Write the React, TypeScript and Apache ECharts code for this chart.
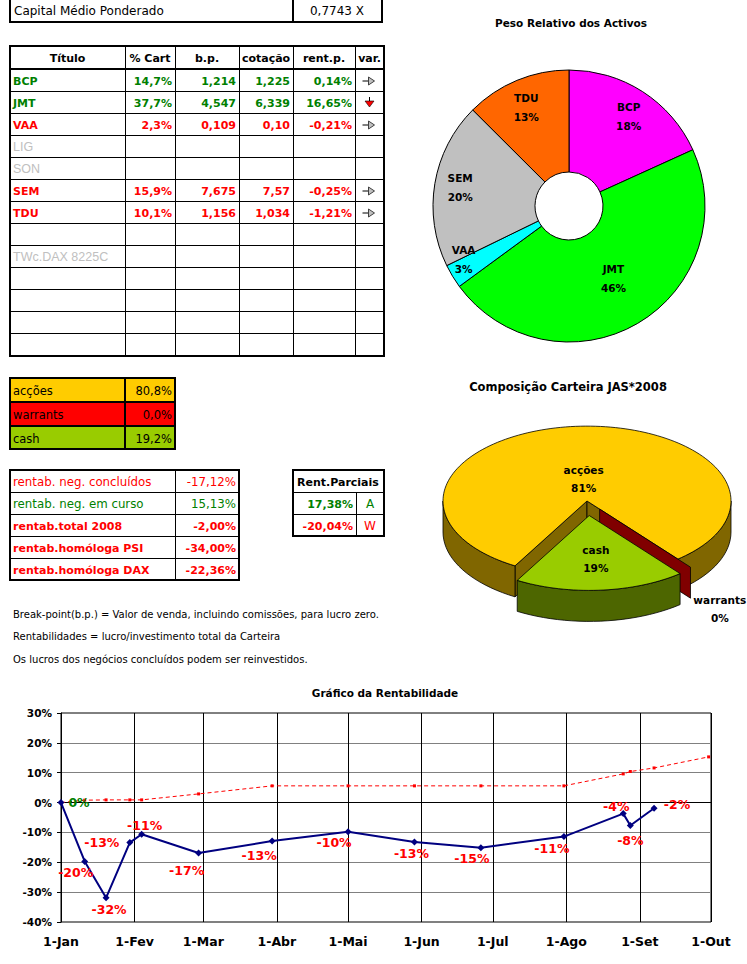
import React, { useEffect, useRef } from 'react';
import * as echarts from 'echarts';

// ---------------- DATA ----------------
const capitalLabel = 'Capital Médio Ponderado';
const capitalValue = '0,7743 X';

const tableHeaders = ['Título', '% Cart', 'b.p.', 'cotação', 'rent.p.', 'var.'];
const titulos = ['BCP', 'JMT', 'VAA', 'LIG', 'SON', 'SEM', 'TDU', '', 'TWc.DAX 8225C', '', '', '', ''];
const pctCarteira = [14.7, 37.7, 2.3, null, null, 15.9, 10.1];
const breakPoints = ['1,214', '4,547', '0,109', '', '', '7,675', '1,156'];
const cotacoes = ['1,225', '6,339', '0,10', '', '', '7,57', '1,034'];
const rentParcial = [0.14, 16.65, -0.21, null, null, -0.25, -1.21];
const variacao = ['right', 'down', 'right', '', '', 'right', 'right'];

const compNames = ['acções', 'warrants', 'cash'];
const compValues = [80.8, 0.0, 19.2];

const rentLabels = [
  'rentab. neg. concluídos',
  'rentab. neg. em curso',
  'rentab.total 2008',
  'rentab.homóloga PSI',
  'rentab.homóloga DAX',
];
const rentValues = [-17.12, 15.13, -2.0, -34.0, -22.36];
const parciaisTitle = 'Rent.Parciais';
const parciaisValues = [17.38, -20.04];
const parciaisTags = ['A', 'W'];

const notes = [
  'Break-point(b.p.) = Valor de venda, incluindo comissões, para lucro zero.',
  'Rentabilidades = lucro/investimento total da Carteira',
  'Os lucros dos negócios concluídos podem ser reinvestidos.',
];

const donutTitle = 'Peso Relativo dos Activos';
const donutNames = ['BCP', 'JMT', 'VAA', 'SEM', 'TDU'];
const donutValues = [14.7, 37.7, 2.3, 15.9, 10.1];
const donutPctLabels = [18, 46, 3, 20, 13];

const pie3dTitle = 'Composição Carteira JAS*2008';

const lineTitle = 'Gráfico da Rentabilidade';
const monthNames = ['Jan', 'Fev', 'Mar', 'Abr', 'Mai', 'Jun', 'Jul', 'Ago', 'Set', 'Out', 'Nov', 'Dez'];
const rentDates = [
  '2008-01-01', '2008-01-11', '2008-01-20', '2008-01-30', '2008-02-04', '2008-02-28', '2008-03-30',
  '2008-05-01', '2008-05-29', '2008-06-26', '2008-07-31', '2008-08-25', '2008-08-28', '2008-09-07',
];
const rentCarteira = [0, -19.7, -31.9, -13.4, -10.6, -16.9, -12.9, -9.8, -13.2, -15.1, -11.4, -3.7, -7.7, -1.9];
const refDates = [
  '2008-01-01', '2008-01-11', '2008-01-20', '2008-01-30', '2008-02-04', '2008-02-28', '2008-03-30',
  '2008-05-01', '2008-05-29', '2008-06-26', '2008-07-31', '2008-08-25', '2008-08-28', '2008-09-07', '2008-09-30',
];
const refValues = [0, 0.8, 0.9, 0.9, 0.9, 2.9, 5.6, 5.6, 5.6, 5.6, 5.6, 9.6, 10.4, 11.6, 15.3];

// ---------------- STYLE ----------------
const FF = "'DejaVu Sans', Verdana, sans-serif";
const FF_THIN = "'Liberation Sans', Arial, sans-serif";
const GREEN = '#008000';
const RED = '#FF0000';
const GRAY = '#C0C0C0';
const NAVY = '#000080';
const compColors = ['#FFCC00', '#FF0000', '#99CC00'];
const donutColors = ['#FF00FF', '#00FF00', '#00FFFF', '#C0C0C0', '#FF6600'];
const donutLabelShift = [[12, -16], [0, -3], [-30, 8], [-22, -4], [-9, -17]];
const pie3dSideColors = ['#806600', '#800000', '#4D6600'];
const pie3dExplode = [0, 20, 28];
const pie3dLabelPlace = [[0.29, 0], [1.57, 7], [0.58, 0]];
const P3 = { cx: 587, cy: 501, R: 144, k: 0.52, depth: 31, start: 120 };
const lineLabelOffsets = [
  [18, 0], [-9, 11], [3, 12], [-28, 0], [3, -9], [-12, 17], [-13, 14],
  [-14, 11], [-3, 12], [-9, 11], [-12, 12], [-7, -7], [0, 15], [23, -4],
];

const signColor = (v: number) => (v >= 0 ? GREEN : RED);
const fmtPct = (v: number, d: number) => v.toFixed(d).replace('.', ',') + '%';

function buildOption() {
  const fills: any[] = [];
  const lines: any[] = [];
  const texts: any[] = [];

  const hl = (x1: number, x2: number, y: number, w = 1) => {
    const yy = w % 2 === 1 ? y + 0.5 : y;
    lines.push({ type: 'line', silent: true, shape: { x1, y1: yy, x2, y2: yy }, style: { stroke: '#000', lineWidth: w } });
  };
  const vl = (x: number, y1: number, y2: number, w = 1) => {
    const xx = w % 2 === 1 ? x + 0.5 : x;
    lines.push({ type: 'line', silent: true, shape: { x1: xx, y1, x2: xx, y2 }, style: { stroke: '#000', lineWidth: w } });
  };
  const box = (x: number, y: number, w: number, h: number, lw = 2) => {
    lines.push({ type: 'rect', silent: true, shape: { x, y, width: w, height: h }, style: { fill: 'none', stroke: '#000', lineWidth: lw } });
  };
  const tx = (x: number, y: number, text: string, o: any = {}) => {
    texts.push({
      type: 'text', silent: true, x, y,
      style: {
        text, fill: o.color || '#000', fontFamily: o.family || FF, fontSize: o.size || 11,
        fontWeight: o.bold ? 'bold' : 'normal', align: o.align || 'left', verticalAlign: 'middle',
        textAlign: o.align || 'left', textVerticalAlign: 'middle',
      },
    });
  };

  // Capital box
  box(10, -4, 372, 26, 2);
  vl(293, -4, 22, 2);
  tx(14, 11, capitalLabel, { size: 12 });
  tx(337, 11, capitalValue, { size: 12, align: 'center' });

  // Main table
  const cols = [10, 125, 175, 239, 293, 355, 384];
  const top = 46, headH = 23, rowH = 22;
  const bodyTop = top + headH;
  const bottom = bodyTop + titulos.length * rowH + 1;
  box(10, top, 374, bottom - top, 2);
  for (let c = 1; c < cols.length - 1; c++) vl(cols[c], top, bottom, 1);
  hl(10, 384, bodyTop, 2);
  for (let r = 1; r < titulos.length; r++) hl(10, 384, bodyTop + r * rowH, 1);
  tableHeaders.forEach((h, c) => tx((cols[c] + cols[c + 1]) / 2, top + headH / 2 + 0.5, h, { bold: true, align: 'center' }));
  titulos.forEach((t, r) => {
    const yc = bodyTop + r * rowH + rowH / 2 + 1;
    const hasData = r < pctCarteira.length && pctCarteira[r] != null;
    if (t) {
      if (hasData) tx(13, yc, t, { bold: true, color: signColor(rentParcial[r] as number) });
      else tx(13, yc, t, { color: GRAY, family: FF_THIN, size: 12.5 });
    }
    if (hasData) {
      const col = signColor(rentParcial[r] as number);
      const vals = [fmtPct(pctCarteira[r] as number, 1), breakPoints[r], cotacoes[r], fmtPct(rentParcial[r] as number, 2)];
      vals.forEach((v, i) => tx(cols[i + 2] - 3, yc, v, { bold: true, color: col, align: 'right' }));
      const ax = (cols[5] + cols[6]) / 2;
      if (variacao[r] === 'right') {
        lines.push({ type: 'line', silent: true, shape: { x1: ax - 7, y1: yc, x2: ax - 1, y2: yc }, style: { stroke: '#000', lineWidth: 1 } });
        lines.push({ type: 'polygon', silent: true, shape: { points: [[ax - 1, yc - 4], [ax + 5, yc], [ax - 1, yc + 4]] }, style: { fill: '#C0C0C0', stroke: '#404040', lineWidth: 1 } });
      } else if (variacao[r] === 'down') {
        lines.push({ type: 'line', silent: true, shape: { x1: ax, y1: yc - 6, x2: ax, y2: yc - 2 }, style: { stroke: '#000', lineWidth: 1 } });
        lines.push({ type: 'polygon', silent: true, shape: { points: [[ax - 4.5, yc - 2], [ax + 4.5, yc - 2], [ax, yc + 4]] }, style: { fill: RED, stroke: '#000', lineWidth: 0.6 } });
      }
    }
  });

  // Composition box
  const cRows = [378, 402, 426, 449];
  compNames.forEach((n, i) => {
    fills.push({ type: 'rect', silent: true, shape: { x: 10, y: cRows[i], width: 165, height: cRows[i + 1] - cRows[i] }, style: { fill: compColors[i] } });
    tx(13, (cRows[i] + cRows[i + 1]) / 2 + 1, n, { size: 11.5 });
    tx(172, (cRows[i] + cRows[i + 1]) / 2 + 1, fmtPct(compValues[i], 1), { size: 11.5, align: 'right' });
  });
  box(10, 378, 165, 71, 2);
  vl(125, 378, 449, 2);
  hl(10, 175, 402, 2);
  hl(10, 175, 426, 2);

  // Rentabilidades box
  const rTop = 470;
  box(10, rTop, 229, rentLabels.length * 22, 2);
  vl(175, rTop, rTop + rentLabels.length * 22, 1);
  rentLabels.forEach((l, i) => {
    if (i > 0) hl(10, 239, rTop + i * 22, 1);
    const yc = rTop + i * 22 + 12;
    const col = signColor(rentValues[i]);
    const bold = i >= 2;
    tx(13, yc, l, { color: col, bold, size: bold ? 11 : 11.8 });
    tx(236, yc, fmtPct(rentValues[i], 2), { color: col, bold, align: 'right', size: bold ? 11 : 11.8 });
  });

  // Rent.Parciais box
  box(293, rTop, 91, 66, 2);
  hl(293, 384, rTop + 22, 1);
  hl(293, 384, rTop + 44, 1);
  vl(356, rTop + 22, rTop + 66, 1);
  tx(297, rTop + 12, parciaisTitle, { bold: true });
  parciaisValues.forEach((v, i) => {
    const yc = rTop + 22 * (i + 1) + 12;
    tx(353, yc, fmtPct(v, 2), { bold: true, color: signColor(v), align: 'right' });
    tx(370, yc, parciaisTags[i], { color: signColor(v), align: 'center', size: 12 });
  });

  // Notes
  notes.forEach((n, i) => tx(13, 614 + i * 22.5, n, { size: 10 }));

  // Titles
  tx(571, 23, donutTitle, { bold: true, size: 10.5, align: 'center' });
  tx(568, 387, pie3dTitle, { bold: true, size: 11.5, align: 'center' });
  tx(385, 693, lineTitle, { bold: true, size: 10.5, align: 'center' });

  const total3d = compValues.reduce((a, b) => a + b, 0);
  const rad = Math.PI / 180;

  const pie3d = {
    type: 'custom',
    coordinateSystem: 'none',
    silent: true,
    data: compValues.map((v) => [v]),
    renderItem: (params: any) => {
      const i = params.dataIndex;
      let before = 0;
      for (let j = 0; j < i; j++) before += compValues[j];
      const a0 = P3.start + (360 * before) / total3d;
      const a1 = a0 + (360 * compValues[i]) / total3d;
      const mid = (a0 + a1) / 2;
      const d = pie3dExplode[i];
      const cx = P3.cx + d * Math.cos(mid * rad);
      const cy = P3.cy + d * P3.k * Math.sin(mid * rad);
      const pt = (a: number, r = P3.R, dz = 0) => [cx + r * Math.cos(a * rad), cy + r * P3.k * Math.sin(a * rad) + dz];
      const edge = { stroke: '#000', lineWidth: 0.8 };
      const side = pie3dSideColors[i];
      const children: any[] = [];
      const face = (a: number) => ({
        type: 'polygon',
        shape: { points: [[cx, cy], pt(a), pt(a, P3.R, P3.depth), [cx, cy + P3.depth]] },
        style: { fill: side, ...edge },
      });
      if (Math.cos(a0 * rad) < 0) children.push(face(a0));
      if (Math.cos(a1 * rad) > 0) children.push(face(a1));
      for (let n = -1; n <= 2; n++) {
        const s = Math.max(a0, n * 360);
        const e = Math.min(a1, n * 360 + 180);
        if (e - s > 0.01) {
          const pts: number[][] = [];
          const steps = Math.max(2, Math.ceil((e - s) / 3));
          for (let t = 0; t <= steps; t++) pts.push(pt(s + ((e - s) * t) / steps));
          for (let t = steps; t >= 0; t--) pts.push(pt(s + ((e - s) * t) / steps, P3.R, P3.depth));
          children.push({ type: 'polygon', shape: { points: pts }, style: { fill: side, ...edge } });
        }
      }
      if (a1 - a0 > 0.01) {
        const pts: number[][] = [[cx, cy]];
        const steps = Math.max(2, Math.ceil((a1 - a0) / 2));
        for (let t = 0; t <= steps; t++) pts.push(pt(a0 + ((a1 - a0) * t) / steps));
        children.push({ type: 'polygon', shape: { points: pts }, style: { fill: compColors[i], ...edge } });
      }
      const [lr, ls] = pie3dLabelPlace[i];
      const lp = pt(mid + ls, P3.R * lr);
      children.push({
        type: 'text', x: lp[0], y: lp[1],
        style: {
          text: `${compNames[i]}\n${Math.round(compValues[i])}%`, fill: '#000', fontFamily: FF, fontSize: 10.5,
          fontWeight: 'bold', lineHeight: 18, align: 'center', verticalAlign: 'middle', textAlign: 'center', textVerticalAlign: 'middle',
        },
      });
      return { type: 'group', children };
    },
  };

  const donut = {
    type: 'pie',
    center: [569, 206],
    radius: [34, 136],
    startAngle: 90,
    clockwise: true,
    silent: true,
    avoidLabelOverlap: false,
    data: donutNames.map((n, i) => ({ name: n, value: donutValues[i], itemStyle: { color: donutColors[i] } })),
    itemStyle: { borderColor: '#000', borderWidth: 1 },
    label: {
      show: true,
      position: 'inside',
      formatter: (p: any) => `${p.name}\n${donutPctLabels[p.dataIndex]}%`,
      color: '#000',
      fontFamily: FF,
      fontWeight: 'bold',
      fontSize: 10.5,
      lineHeight: 19,
    },
    labelLine: { show: false },
    labelLayout: (p: any) => ({ dx: donutLabelShift[p.dataIndex][0], dy: donutLabelShift[p.dataIndex][1] }),
  };

  const DAY = 86400000;
  const lineMain = {
    type: 'line',
    z: 4,
    data: rentDates.map((d, i) => ({
      value: [d, rentCarteira[i]],
      label: { offset: lineLabelOffsets[i], color: signColor(Math.round(rentCarteira[i])) },
    })),
    symbol: 'diamond',
    symbolSize: 7,
    lineStyle: { color: NAVY, width: 2 },
    itemStyle: { color: NAVY },
    label: {
      show: true,
      position: 'inside',
      align: 'center',
      verticalAlign: 'middle',
      formatter: (p: any) => `${Math.round(p.value[1])}%`,
      fontFamily: FF,
      fontWeight: 'bold',
      fontSize: 12.5,
    },
  };
  const lineRef = {
    type: 'line',
    z: 3,
    data: refDates.map((d, i) => [d, refValues[i]]),
    symbol: 'rect',
    symbolSize: 3,
    lineStyle: { color: RED, width: 1, type: [4, 3] },
    itemStyle: { color: RED },
  };

  return {
    animation: false,
    backgroundColor: '#fff',
    textStyle: { fontFamily: FF },
    graphic: { elements: [...fills, ...lines, ...texts] },
    grid: { left: 61, top: 713, width: 650, height: 209, show: true, borderColor: '#000', borderWidth: 1, backgroundColor: 'transparent' },
    xAxis: {
      type: 'time',
      min: '2008-01-01',
      max: '2008-10-01',
      minInterval: 28 * DAY,
      maxInterval: 31 * DAY,
      axisLine: { show: true, lineStyle: { color: '#000', width: 1 } },
      axisTick: { show: true, length: 5, lineStyle: { color: '#000' } },
      splitLine: { show: true, lineStyle: { color: '#000', width: 1 } },
      axisLabel: {
        showMinLabel: true,
        showMaxLabel: true,
        hideOverlap: false,
        margin: 13,
        color: '#000',
        fontFamily: FF,
        fontWeight: 'bold',
        fontSize: 12.5,
        formatter: (v: number) => {
          const d = new Date(v);
          return `${d.getDate()}-${monthNames[d.getMonth()]}`;
        },
      },
    },
    yAxis: {
      type: 'value',
      min: -40,
      max: 30,
      interval: 10,
      axisLine: { show: true, lineStyle: { color: '#000', width: 1 } },
      axisTick: { show: true, length: 4, lineStyle: { color: '#000' } },
      splitLine: { show: true, showMaxLine: false, lineStyle: { color: '#808080', width: 1 } },
      axisLabel: { formatter: '{value}%', color: '#000', fontFamily: FF, fontWeight: 'bold', fontSize: 10.5, margin: 9 },
    },
    series: [donut, pie3d, lineRef, lineMain],
  };
}

export default function App() {
  const ref = useRef<HTMLDivElement>(null);
  useEffect(() => {
    if (!ref.current) return;
    const chart = echarts.init(ref.current, null, { renderer: 'svg' });
    chart.setOption(buildOption() as any);
    return () => chart.dispose();
  }, []);
  return <div ref={ref} style={{ position: 'absolute', left: 0, top: 0, width: 747, height: 964, background: '#fff' }} />;
}
